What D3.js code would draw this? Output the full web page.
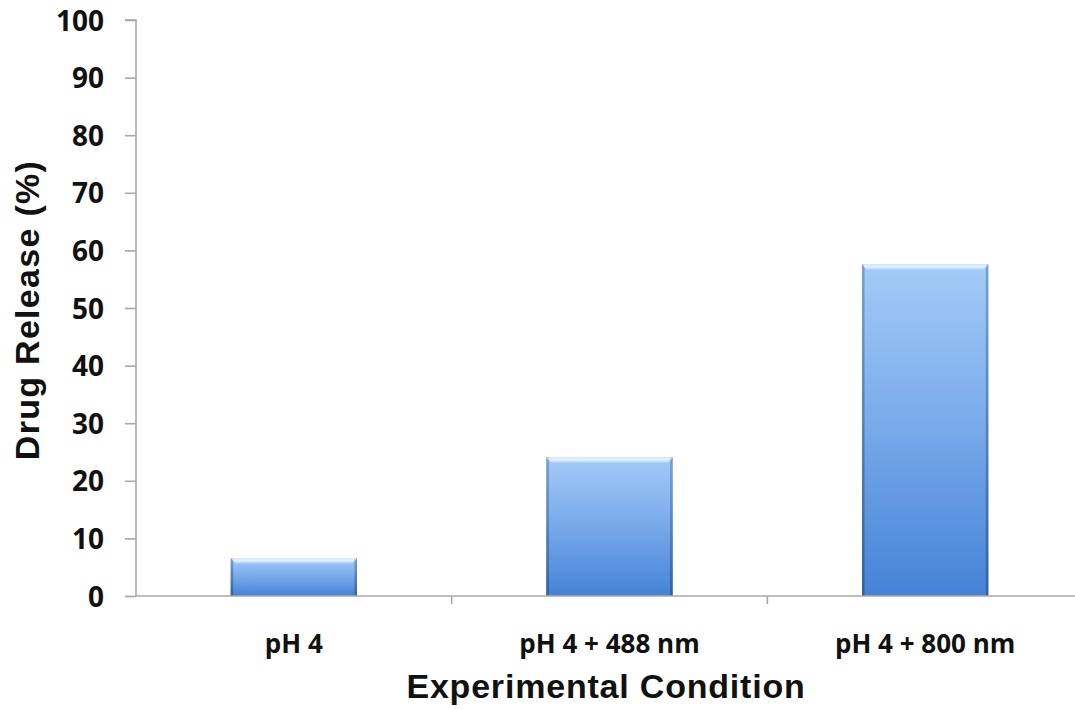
<!DOCTYPE html>
<html>
<head>
<meta charset="utf-8">
<script src="https://cdn.jsdelivr.net/npm/d3@7/dist/d3.min.js"></script>
<style>
  html, body { margin: 0; padding: 0; background: #fff; }
  svg { display: block; }
</style>
</head>
<body>
<svg id="chart" width="1075" height="709"></svg>
<script>
// Drug release per experimental condition
const categories = ["pH 4", "pH 4 + 488 nm", "pH 4 + 800 nm"];
const releaseValues = [6.6, 24.1, 57.6];
const yTickValues = [0, 10, 20, 30, 40, 50, 60, 70, 80, 90, 100];
const xTitle = "Experimental Condition";
const yTitle = "Drug Release (%)";

const svg = d3.select("#chart");
const margin = { left: 136, top: 20, bottom: 113 };
const plotRight = 1083;
const plotBottom = 709 - margin.bottom;

const x = d3.scaleBand()
  .domain(categories)
  .range([margin.left, plotRight])
  .paddingInner(0.6)
  .paddingOuter(0.3);

const y = d3.scaleLinear()
  .domain([0, 100])
  .range([plotBottom, margin.top]);

// gradients for the bevelled bars
const defs = svg.append("defs");
const fill = defs.append("linearGradient").attr("id", "barFill")
  .attr("x1", 0).attr("y1", 0).attr("x2", 0).attr("y2", 1);
fill.append("stop").attr("offset", "0%").attr("stop-color", "#a4cbf8");
fill.append("stop").attr("offset", "50%").attr("stop-color", "#77a9ea");
fill.append("stop").attr("offset", "100%").attr("stop-color", "#4582d6");

const edge = defs.append("linearGradient").attr("id", "barEdge")
  .attr("x1", 0).attr("y1", 0).attr("x2", 0).attr("y2", 1);
edge.append("stop").attr("offset", "0%").attr("stop-color", "#7a9fcf");
edge.append("stop").attr("offset", "100%").attr("stop-color", "#33609f");

const topHi = defs.append("linearGradient").attr("id", "barTop")
  .attr("x1", 0).attr("y1", 0).attr("x2", 0).attr("y2", 1);
topHi.append("stop").attr("offset", "0%").attr("stop-color", "#ffffff").attr("stop-opacity", 0.55);
topHi.append("stop").attr("offset", "50%").attr("stop-color", "#e6f3ff").attr("stop-opacity", 0.95);
topHi.append("stop").attr("offset", "100%").attr("stop-color", "#b4d6fa").attr("stop-opacity", 0.3);

// Y axis
const yAxis = d3.axisLeft(y).tickValues(yTickValues).tickSize(11).tickPadding(0).tickFormat(d3.format("d"));
const yG = svg.append("g").attr("transform", `translate(${margin.left},0)`).call(yAxis);
yG.select(".domain").attr("stroke", "#a8a8a8").attr("stroke-width", 1.6)
  .attr("d", `M-11,${y(100)}H0V${plotBottom}`);
yG.selectAll(".tick line").attr("stroke", "#a8a8a8").attr("stroke-width", 1.6);
yG.selectAll(".tick text")
  .attr("x", -32)
  .attr("dy", "0.36em")
  .attr("fill", "#111")
  .style("font-family", "'Open Sans', sans-serif")
  .style("font-weight", 700)
  .style("font-size", "28px");

// bars
const bars = svg.append("g").selectAll("g.bar")
  .data(categories.map((c, i) => ({ c, v: releaseValues[i] })))
  .join("g").attr("class", "bar");

bars.append("rect")
  .attr("x", d => x(d.c))
  .attr("y", d => y(d.v))
  .attr("width", x.bandwidth())
  .attr("height", d => y(0) - y(d.v))
  .attr("fill", "url(#barFill)");

// darker side edges
bars.append("rect")
  .attr("x", d => x(d.c))
  .attr("y", d => y(d.v))
  .attr("width", 2.5)
  .attr("height", d => y(0) - y(d.v))
  .attr("fill", "url(#barEdge)");
bars.append("rect")
  .attr("x", d => x(d.c) + x.bandwidth() - 2.5)
  .attr("y", d => y(d.v))
  .attr("width", 2.5)
  .attr("height", d => y(0) - y(d.v))
  .attr("fill", "url(#barEdge)");

// bevelled highlight along the top
bars.append("path")
  .attr("d", d => {
    const x0 = x(d.c), x1 = x0 + x.bandwidth(), t = y(d.v);
    return `M${x0},${t}H${x1}L${x1 - 5},${t + 6}H${x0 + 5}Z`;
  })
  .attr("fill", "url(#barTop)");

// X axis
const xAxis = d3.axisBottom(x).tickSize(0).tickPadding(0);
const xG = svg.append("g").attr("transform", `translate(0,${plotBottom})`).call(xAxis);
xG.select(".domain").attr("stroke", "#a8a8a8").attr("stroke-width", 1.6)
  .attr("d", `M${margin.left},0H${plotRight}`);
xG.selectAll(".tick text")
  .attr("y", 57)
  .attr("dy", 0)
  .attr("fill", "#111")
  .style("font-family", "'Open Sans', sans-serif")
  .style("font-weight", 700)
  .style("font-size", "26px");

// separators between categories
const step = x.step();
const separators = categories.slice(1).map(c => x(c) - (step - x.bandwidth()) / 2);
svg.append("g").selectAll("line")
  .data(separators)
  .join("line")
  .attr("x1", d => d).attr("x2", d => d)
  .attr("y1", plotBottom).attr("y2", plotBottom + 8)
  .attr("stroke", "#a8a8a8").attr("stroke-width", 1.6);

// axis titles
svg.append("text")
  .attr("x", 606)
  .attr("y", 698)
  .attr("text-anchor", "middle")
  .attr("fill", "#111")
  .style("font-family", "'Liberation Sans', Arial, sans-serif")
  .style("font-weight", 700)
  .style("font-size", "34px")
  .style("letter-spacing", "0.8px")
  .text(xTitle);

svg.append("text")
  .attr("transform", `translate(39,310) rotate(-90)`)
  .attr("text-anchor", "middle")
  .attr("fill", "#111")
  .style("font-family", "'Liberation Sans', Arial, sans-serif")
  .style("font-weight", 700)
  .style("font-size", "34px")
  .style("letter-spacing", "1.3px")
  .text(yTitle);
</script>
</body>
</html>
